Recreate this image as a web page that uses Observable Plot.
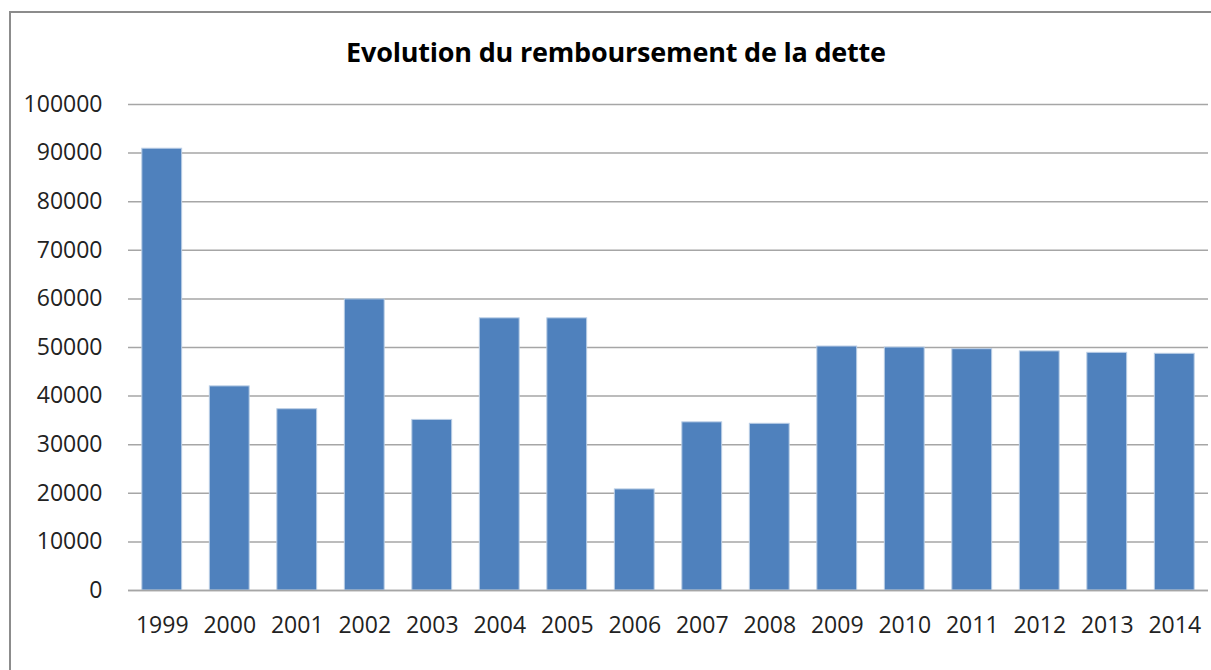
<!DOCTYPE html>
<html>
<head>
<meta charset="utf-8">
<script src="https://cdn.jsdelivr.net/npm/d3@7"></script>
<script src="https://cdn.jsdelivr.net/npm/@observablehq/plot@0.6"></script>
<style>
  html, body { margin: 0; padding: 0; background: #fff; }
  #wrap { position: relative; width: 1211px; height: 670px; overflow: hidden; font-family: "Open Sans", "Noto Sans", sans-serif; }
  #frame { position: absolute; left: 9px; top: 11px; width: 1400px; height: 800px; border-left: 2px solid #8c8c8c; border-top: 2px solid #8c8c8c; }
  #title { position: absolute; left: 0; width: 1232px; top: 34px; text-align: center; font-size: 27px; font-weight: bold; color: #000; letter-spacing: -0.2px; line-height: 36px; }
  #chart { position: absolute; left: 0; top: 80px; }
</style>
</head>
<body>
<div id="wrap">
  <div id="frame"></div>
  <div id="title">Evolution du remboursement de la dette</div>
  <div id="chart"></div>
</div>
<script>
const years = ["1999","2000","2001","2002","2003","2004","2005","2006","2007","2008","2009","2010","2011","2012","2013","2014"];
const values = [90900, 42000, 37300, 59900, 35100, 56000, 56000, 20800, 34600, 34300, 50200, 50000, 49650, 49200, 48900, 48700];
const yTicks = [0, 10000, 20000, 30000, 40000, 50000, 60000, 70000, 80000, 90000, 100000];

const data = years.map((y, i) => ({year: y, value: values[i]}));

const chart = Plot.plot({
  width: 1211,
  height: 590,
  marginTop: 24,
  marginBottom: 80,
  marginLeft: 128,
  marginRight: 3,
  style: { fontFamily: "'Open Sans', 'Noto Sans', sans-serif", fontSize: "23px", color: "#222", background: "transparent" },
  x: { domain: years, paddingInner: 0.41, paddingOuter: 0.205, round: false, label: null },
  y: { domain: [0, 100000], label: null },
  marks: [
    Plot.gridY(yTicks, { stroke: "#a6a6a6", strokeOpacity: 1, strokeWidth: 1.5 }),
    Plot.barY(data, { x: "year", y: "value", fill: "#4f81bd", stroke: "#b9cde5", strokeWidth: 1 }),
    Plot.ruleY([0], { stroke: "#a6a6a6", strokeWidth: 1.5 }),
    Plot.axisX({ tickSize: 0, tickPadding: 26, fontSize: 23 }),
    Plot.axisY({ ticks: yTicks, tickSize: 0, tickPadding: 26, tickFormat: d => String(d), fontSize: 23 })
  ]
});
document.getElementById("chart").appendChild(chart);
</script>
</body>
</html>
